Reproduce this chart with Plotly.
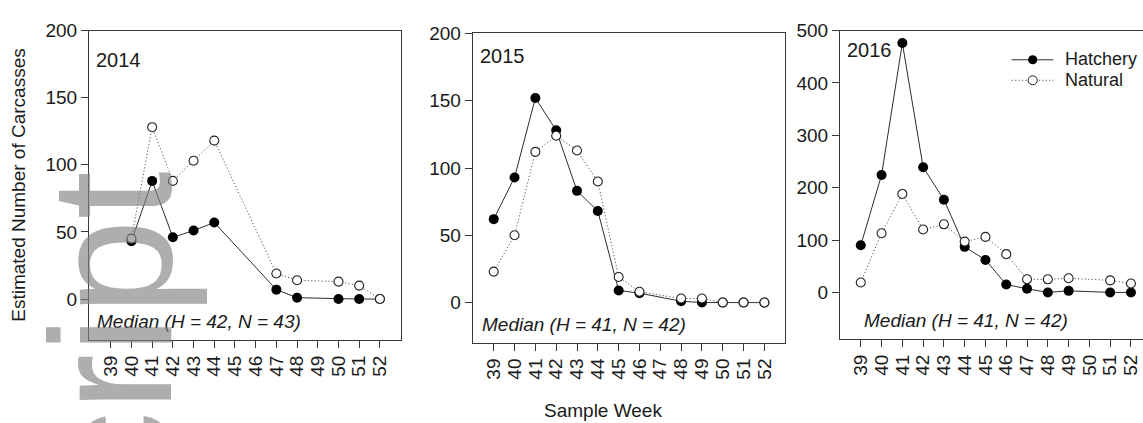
import plotly.graph_objects as go

W, H = 1143, 423

# ---- data -------------------------------------------------------------
weeks = list(range(39, 53))
week_labels = [str(w) for w in weeks]

weeks_2014_h = [40, 41, 42, 43, 44, 47, 48, 50, 51, 52]
hatchery_2014 = [43, 88, 46, 51, 57, 7, 1, 0, 0, 0]
weeks_2014_n = [40, 41, 42, 43, 44, 47, 48, 50, 51, 52]
natural_2014 = [45, 128, 88, 103, 118, 19, 14, 13, 10, 0]

weeks_2015_h = [39, 40, 41, 42, 43, 44, 45, 46, 48, 49, 50, 51, 52]
hatchery_2015 = [62, 93, 152, 128, 83, 68, 9, 7, 1, 0, 0, 0, 0]
weeks_2015_n = [39, 40, 41, 42, 43, 44, 45, 46, 48, 49, 50, 51, 52]
natural_2015 = [23, 50, 112, 124, 113, 90, 19, 8, 3, 3, 0, 0, 0]

weeks_2016_h = [39, 40, 41, 42, 43, 44, 45, 46, 47, 48, 49, 51, 52]
hatchery_2016 = [90, 224, 476, 239, 177, 87, 62, 15, 7, 0, 3, 0, 0]
weeks_2016_n = [39, 40, 41, 42, 43, 44, 45, 46, 47, 48, 49, 51, 52]
natural_2016 = [19, 113, 188, 120, 130, 97, 106, 73, 25, 25, 27, 23, 17]

years = ["2014", "2015", "2016"]
medians = ["Median (H = 42, N = 43)", "Median (H = 41, N = 42)", "Median (H = 41, N = 42)"]
yticks_small = [0, 50, 100, 150, 200]
yticks_large = [0, 100, 200, 300, 400, 500]

# ---- styling -----------------------------------------------------------
FONT = "Liberation Sans, Arial, sans-serif"
TXT = "#1a1a1a"
AX = "#3a3a3a"
FS = 19
HATCH_LINE = "#2e2e2e"
NAT_LINE = "#505072"
NAT_DASH = "1.2px,2.2px"


def px(x):
    return x / W


def py(y):
    return 1 - y / H


panels = [
    dict(xd=(89, 401), yd=(21, 338), xr=[37.95, 53.02], yr=[-30.5, 200], yt=yticks_small,
         wh=weeks_2014_h, h=hatchery_2014, wn=weeks_2014_n, n=natural_2014,
         year_pos=(96, 51.5), med_pos=(97, 319.5), ymirror=True),
    dict(xd=(472.7, 785), yd=(24, 341), xr=[37.99, 52.99], yr=[-30, 200], yt=yticks_small,
         wh=weeks_2015_h, h=hatchery_2015, wn=weeks_2015_n, n=natural_2015,
         year_pos=(479.5, 47.5), med_pos=(482, 322.5), ymirror=True),
    dict(xd=(840, 1143), yd=(21, 337), xr=[38.0, 52.58], yr=[-89, 500], yt=yticks_large,
         wh=weeks_2016_h, h=hatchery_2016, wn=weeks_2016_n, n=natural_2016,
         year_pos=(847, 40.5), med_pos=(863.5, 318.5), ymirror=False),
]

fig = go.Figure()
annotations = []
layout_axes = {}

for i, p in enumerate(panels, start=1):
    xs = "" if i == 1 else str(i)
    fig.add_trace(go.Scatter(
        x=p["wh"], y=p["h"], mode="lines+markers", name="Hatchery",
        line=dict(color=HATCH_LINE, width=1),
        marker=dict(symbol="circle", size=10, color="black", line=dict(width=0)),
        xaxis="x" + xs, yaxis="y" + xs, showlegend=False, cliponaxis=False,
    ))
    fig.add_trace(go.Scatter(
        x=p["wn"], y=p["n"], mode="lines+markers", name="Natural",
        line=dict(color=NAT_LINE, width=1, dash=NAT_DASH),
        marker=dict(symbol="circle", size=9, color="white", line=dict(width=1.1, color="#222222")),
        xaxis="x" + xs, yaxis="y" + xs, showlegend=False, cliponaxis=False,
    ))

    layout_axes["xaxis" + xs] = dict(
        domain=[px(p["xd"][0]), px(p["xd"][1])], range=p["xr"], anchor="y" + xs,
        tickmode="array", tickvals=weeks, ticktext=week_labels, tickangle=-90,
        ticks="outside", ticklen=7, tickwidth=1, tickcolor=AX,
        showline=True, linecolor=AX, linewidth=1, mirror=True,
        showgrid=False, zeroline=False,
        tickfont=dict(family=FONT, size=FS, color=TXT),
    )
    layout_axes["yaxis" + xs] = dict(
        domain=[py(p["yd"][1]), py(p["yd"][0])], range=p["yr"], anchor="x" + xs,
        tickmode="array", tickvals=p["yt"],
        ticks="outside", ticklen=7, tickwidth=1, tickcolor=AX,
        showline=True, linecolor=AX, linewidth=1, mirror=p["ymirror"],
        showgrid=False, zeroline=False,
        tickfont=dict(family=FONT, size=FS, color=TXT),
    )

    annotations.append(dict(
        text=years[i - 1], xref="paper", yref="paper",
        x=px(p["year_pos"][0]), y=py(p["year_pos"][1]), xanchor="left", yanchor="middle",
        showarrow=False, borderpad=0, borderwidth=0,
        font=dict(family=FONT, size=20, color=TXT),
    ))
    annotations.append(dict(
        text="<i>" + medians[i - 1] + "</i>", xref="paper", yref="paper",
        x=px(p["med_pos"][0]), y=py(p["med_pos"][1]), xanchor="left", yanchor="middle",
        showarrow=False, borderpad=0, borderwidth=0,
        font=dict(family=FONT, size=FS, color=TXT),
    ))

# axis titles
annotations.append(dict(
    text="Sample Week", xref="paper", yref="paper", x=px(602.5), y=py(410.5),
    xanchor="center", yanchor="middle", showarrow=False, borderpad=0, borderwidth=0,
    font=dict(family=FONT, size=FS, color=TXT),
))
annotations.append(dict(
    text="Estimated Number of Carcasses", xref="paper", yref="paper", x=px(18.5), y=py(179.5),
    xanchor="center", yanchor="middle", textangle=-90, showarrow=False, borderpad=0, borderwidth=0,
    font=dict(family=FONT, size=FS, color=TXT),
))

# legend (inside the 2016 panel)
leg_x0, leg_x1, leg_xm = 1011.7, 1053.3, 1032.7
leg_rows = [("Hatchery", 51.0, "solid", "black", HATCH_LINE),
            ("Natural", 72.0, NAT_DASH, "white", NAT_LINE)]
shapes = []
for name, yy, dash, fill, lcol in leg_rows:
    shapes.append(dict(type="line", xref="paper", yref="paper",
                       x0=px(leg_x0), x1=px(leg_x1), y0=py(yy), y1=py(yy),
                       line=dict(color=lcol, width=1, dash=dash)))
    r = 4.6
    shapes.append(dict(type="circle", xref="paper", yref="paper",
                       x0=px(leg_xm - r), x1=px(leg_xm + r), y0=py(yy + r), y1=py(yy - r),
                       fillcolor=fill,
                       line=dict(color="#222222", width=1 if fill == "white" else 0)))
    annotations.append(dict(
        text=name, xref="paper", yref="paper", x=px(1065), y=py(yy - 0.5),
        xanchor="left", yanchor="middle", showarrow=False, borderpad=0, borderwidth=0,
        font=dict(family=FONT, size=18, color=TXT),
    ))

# vertical page watermark on the left edge
annotations.append(dict(
    text="Author Manuscript", xref="paper", yref="paper", x=px(111), y=py(165),
    xanchor="center", yanchor="top", textangle=-90, showarrow=False, borderpad=0, borderwidth=0,
    font=dict(family=FONT, size=173, color="rgba(128,128,128,0.64)"),
))

fig.update_layout(
    width=W, height=H, margin=dict(l=0, r=0, t=0, b=0),
    paper_bgcolor="white", plot_bgcolor="white",
    showlegend=False, annotations=annotations, shapes=shapes,
    **layout_axes,
)

fig.write_html("out.html")
